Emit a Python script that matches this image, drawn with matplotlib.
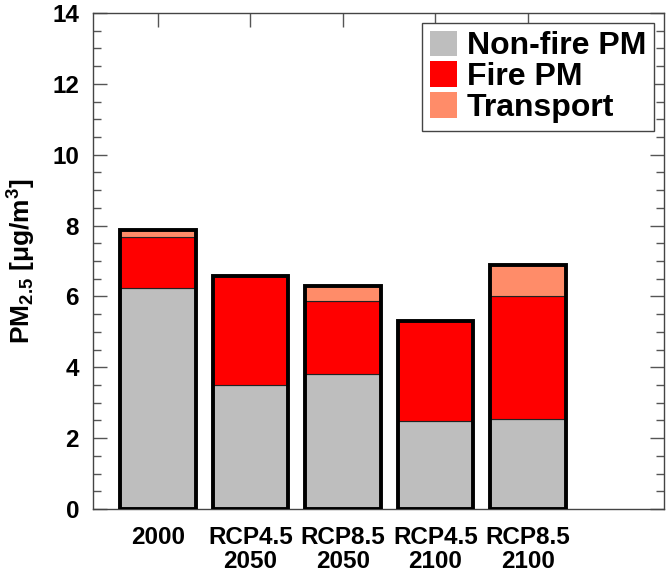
import numpy as np
import matplotlib
matplotlib.use("Agg")
import matplotlib.pyplot as plt
from matplotlib.patches import Patch
from matplotlib.ticker import MultipleLocator

SCENARIOS = ["2000", "RCP4.5\n2050", "RCP8.5\n2050", "RCP4.5\n2100", "RCP8.5\n2100"]
NON_FIRE = [6.25, 3.50, 3.80, 2.48, 2.53]
FIRE = [1.42, 3.08, 2.08, 2.83, 3.47]
TRANSPORT = [0.20, 0.00, 0.42, 0.00, 0.89]

SERIES_LABELS = ["Non-fire PM", "Fire PM", "Transport"]
SERIES_COLORS = ["#BEBEBE", "#FF0000", "#FF8C69"]

plt.rcParams.update(
    {
        "font.family": ["Liberation Sans", "DejaVu Sans"],
        "font.weight": "bold",
        "mathtext.fontset": "custom",
        "mathtext.rm": "Liberation Sans:bold",
        "mathtext.it": "Liberation Sans:bold",
        "mathtext.bf": "Liberation Sans:bold",
        "mathtext.default": "rm",
        "axes.edgecolor": "#444444",
        "axes.linewidth": 1.0,
    }
)

fig = plt.figure(figsize=(6.68, 5.75), dpi=100)
ax = fig.add_axes([93 / 668, 1 - 509 / 575, 571 / 668, 496 / 575])

x = np.arange(1, len(SCENARIOS) + 1)
width = 0.82
bottoms = np.zeros(len(SCENARIOS))
for values, color, label in zip([NON_FIRE, FIRE, TRANSPORT], SERIES_COLORS, SERIES_LABELS):
    vals = np.array(values)
    ax.bar(x, vals, width, bottom=bottoms, color=color, edgecolor="#222222",
           linewidth=0.8, label=label, zorder=2)
    bottoms = bottoms + vals

# thick outline around each total bar
ax.bar(x, bottoms, width, fill=False, edgecolor="black", linewidth=2.8, zorder=3)

ax.set_xlim(0.298, 6.47)
ax.set_ylim(0, 14)
ax.set_xticks(x)
ax.set_xticklabels(SCENARIOS, fontsize=17.5, fontweight="bold", linespacing=1.1)
ax.yaxis.set_major_locator(MultipleLocator(2))
ax.yaxis.set_minor_locator(MultipleLocator(0.5))
ax.tick_params(axis="y", which="major", direction="in", length=10, width=1,
               color="#555555", labelsize=17.5, right=True, pad=10)
ax.tick_params(axis="y", which="minor", direction="in", length=6, width=1,
               color="#555555", right=True)
ax.tick_params(axis="x", which="major", direction="in", length=10, width=1,
               color="#555555", top=True, pad=12)
for lbl in ax.get_yticklabels():
    lbl.set_fontweight("bold")

ax.set_ylabel("PM$_{2.5}$ [μg/m$^3$]", fontsize=19, fontweight="bold", labelpad=10)

handles = [Patch(facecolor=c, edgecolor="none") for c in SERIES_COLORS]
leg = ax.legend(handles, SERIES_LABELS, loc="upper right",
                prop={"weight": "bold", "size": 23}, handlelength=0.85,
                handleheight=0.85, handletextpad=0.3, labelspacing=0.0,
                borderpad=0.25, borderaxespad=0.3, fancybox=False, framealpha=1)
leg.get_frame().set_edgecolor("#444444")
leg.get_frame().set_linewidth(1.0)

fig.savefig("out.png", dpi=100)
